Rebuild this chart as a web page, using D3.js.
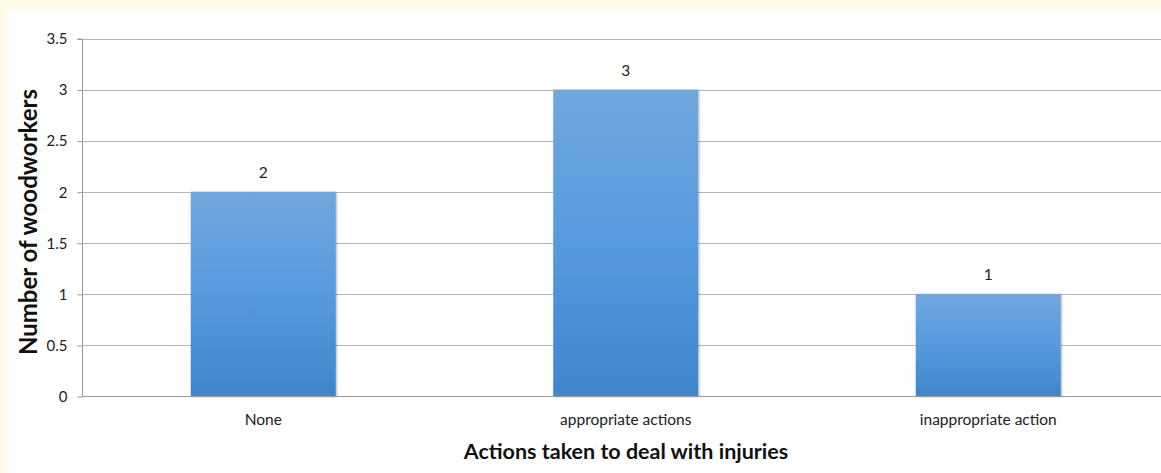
<!DOCTYPE html>
<html lang="en">
<head>
    <meta charset="UTF-8">
    <title>Actions taken to deal with injuries</title>
    <script src="https://d3js.org/d3.v7.min.js"></script>
    <style>
        body {
            margin: 0;
            padding: 0;
            background-color: #fffbe8;
            font-family: Lato, "Open Sans", Arial, sans-serif;
        }
        svg {
            display: block;
        }
        .grid line {
            stroke: #b5b5b5;
            stroke-width: 1;
        }
        .tick text {
            fill: #222;
        }
    </style>
</head>
<body>
    <svg id="chart" width="1161" height="473"></svg>

    <script>
        const categories = ["None", "appropriate actions", "inappropriate action"];
        const counts = [2, 3, 1];
        const yTicks = [0, 0.5, 1, 1.5, 2, 2.5, 3, 3.5];

        const svg = d3.select("#chart");

        // white panel inside the yellow frame
        svg.append("rect")
            .attr("x", 7)
            .attr("y", 9)
            .attr("width", 1161 - 7)
            .attr("height", 473 - 9)
            .attr("fill", "#ffffff");

        const plotLeft = 82, plotBottom = 396, plotTop = 38.5, plotRight = 1169.5;

        const x = d3.scaleBand()
            .domain(categories)
            .range([plotLeft, plotRight])
            .paddingInner(0.6)
            .paddingOuter(0.3);

        const y = d3.scaleLinear()
            .domain([0, 3.5])
            .range([plotBottom, plotTop]);

        // gradient for bars
        const defs = svg.append("defs");
        const grad = defs.append("linearGradient")
            .attr("id", "barGrad")
            .attr("x1", 0).attr("y1", 0)
            .attr("x2", 0).attr("y2", 1);
        grad.append("stop").attr("offset", "0%").attr("stop-color", "#70a7de");
        grad.append("stop").attr("offset", "50%").attr("stop-color", "#579ade");
        grad.append("stop").attr("offset", "100%").attr("stop-color", "#3f86ca");

        const shadow = defs.append("filter")
            .attr("id", "shadow")
            .attr("x", "-10%").attr("y", "-10%")
            .attr("width", "120%").attr("height", "120%");
        shadow.append("feDropShadow")
            .attr("dx", 1).attr("dy", 1)
            .attr("stdDeviation", 1.2)
            .attr("flood-color", "#000")
            .attr("flood-opacity", 0.3);

        // gridlines
        svg.append("g")
            .attr("class", "grid")
            .selectAll("line")
            .data(yTicks.filter(d => d > 0))
            .join("line")
            .attr("x1", plotLeft)
            .attr("x2", 1161)
            .attr("y1", d => Math.round(y(d)) + 0.5)
            .attr("y2", d => Math.round(y(d)) + 0.5);

        // y axis
        const yAxis = svg.append("g")
            .attr("transform", `translate(${plotLeft + 0.5},0.5)`)
            .call(d3.axisLeft(y).tickValues(yTicks).tickSize(5).tickPadding(10)
                .tickFormat(d => d3.format("")(d)));
        yAxis.selectAll("text").attr("font-size", "15px").attr("font-family", "Lato, 'Open Sans', sans-serif");
        yAxis.selectAll("line, path").attr("stroke", "#999");
        yAxis.select(".domain").attr("d", `M-5,${plotTop}H0V${plotBottom}`);

        // bars
        svg.append("g")
            .selectAll("rect")
            .data(categories)
            .join("rect")
            .attr("x", d => x(d))
            .attr("y", (d, i) => y(counts[i]))
            .attr("width", x.bandwidth())
            .attr("height", (d, i) => plotBottom - y(counts[i]))
            .attr("fill", "url(#barGrad)")
            .attr("filter", "url(#shadow)");

        // x axis
        const xAxis = svg.append("g")
            .attr("transform", `translate(0,${plotBottom + 0.5})`)
            .call(d3.axisBottom(x).tickSize(0).tickPadding(17));
        xAxis.select(".domain").attr("stroke", "#999").attr("d", `M${plotLeft},0H1161`);
        xAxis.selectAll("text").attr("font-size", "15.5px").attr("font-family", "Lato, 'Open Sans', sans-serif");

        // value labels
        svg.append("g")
            .selectAll("text")
            .data(categories)
            .join("text")
            .attr("x", d => x(d) + x.bandwidth() / 2)
            .attr("y", (d, i) => y(counts[i]) - 14)
            .attr("text-anchor", "middle")
            .attr("font-size", "15.5px")
            .attr("fill", "#222")
            .text((d, i) => counts[i]);

        // axis titles
        svg.append("text")
            .attr("x", 626)
            .attr("y", 459)
            .attr("text-anchor", "middle")
            .attr("font-size", "21.5px")
            .attr("font-weight", "bold")
            .attr("fill", "#111")
            .text("Actions taken to deal with injuries");

        svg.append("text")
            .attr("transform", `translate(37,222) rotate(-90)`)
            .attr("text-anchor", "middle")
            .attr("font-size", "24px")
            .attr("font-weight", "bold")
            .attr("fill", "#111")
            .text("Number of woodworkers");
    </script>
</body>
</html>
